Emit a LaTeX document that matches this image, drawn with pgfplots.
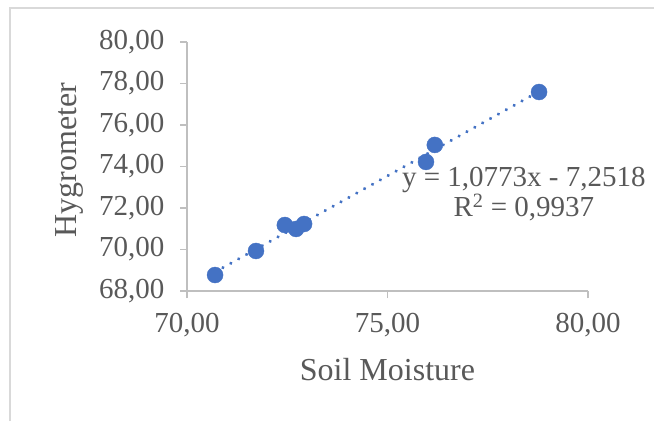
\documentclass[border=0pt]{standalone}
\usepackage{fontspec}
\setmainfont{Liberation Serif}
\usepackage{pgfplots}
\pgfplotsset{compat=1.18}
\definecolor{txt}{HTML}{595959}
\definecolor{axc}{HTML}{BFBFBF}
\definecolor{brd}{HTML}{D9D9D9}
\definecolor{mk}{HTML}{4472C4}
\begin{document}
\begin{tikzpicture}[x=1bp,y=1bp]
\useasboundingbox (0,0) rectangle (654,421);
\fill[white] (0,0) rectangle (654,421);
\draw[brd, line width=1.2bp] (10,0) -- (10,413) -- (654,413);
\begin{axis}[at={(187bp,130bp)}, anchor=south west, scale only axis,
  width=401bp, height=249bp,
  xmin=70, xmax=80, ymin=68, ymax=80,
  xtick={70,75,80}, ytick={68,70,...,80},
  axis x line*=bottom, axis y line*=left,
  axis line style={axc, line width=1.5bp, -},
  tick style={axc, line width=1.5bp},
  tick align=outside, major tick length=7bp,
  /pgf/number format/.cd, fixed, fixed zerofill, precision=2, use comma, assume math mode=true,
  /pgfplots/.cd,
  ticklabel style={font=\fontsize{29bp}{33bp}\selectfont, text=txt},
  yticklabel style={xshift=-12bp},
  xticklabel style={yshift=-12bp},
  label style={font=\fontsize{32bp}{36bp}\selectfont, text=txt},
  xlabel={Soil Moisture},
  ylabel={Hygrometer},
  xlabel style={at={(axis description cs:0.5,-0.317)}, anchor=center},
  ylabel style={at={(axis description cs:-0.292,0.526)}, anchor=center},
  clip=false,
]
\addplot[mk, line width=3.5bp, line cap=round, dash pattern=on 0.01bp off 9bp] coordinates {(70.70,68.915) (78.78,77.617)};
\addplot[only marks, mark=*, mark size=8bp, mark options={fill=mk, draw=mk}] coordinates {
(70.70,68.77) (71.72,69.93) (72.44,71.18) (72.72,70.99) (72.92,71.23)
(75.96,74.22) (76.18,75.04) (78.78,77.59)};
\node[align=center, text=txt, font=\fontsize{29bp}{27bp}\selectfont] at (axis cs:78.40,72.67) {y = 1,0773x - 7,2518\\R\textsuperscript{2} = 0,9937};
\end{axis}
\end{tikzpicture}
\end{document}
